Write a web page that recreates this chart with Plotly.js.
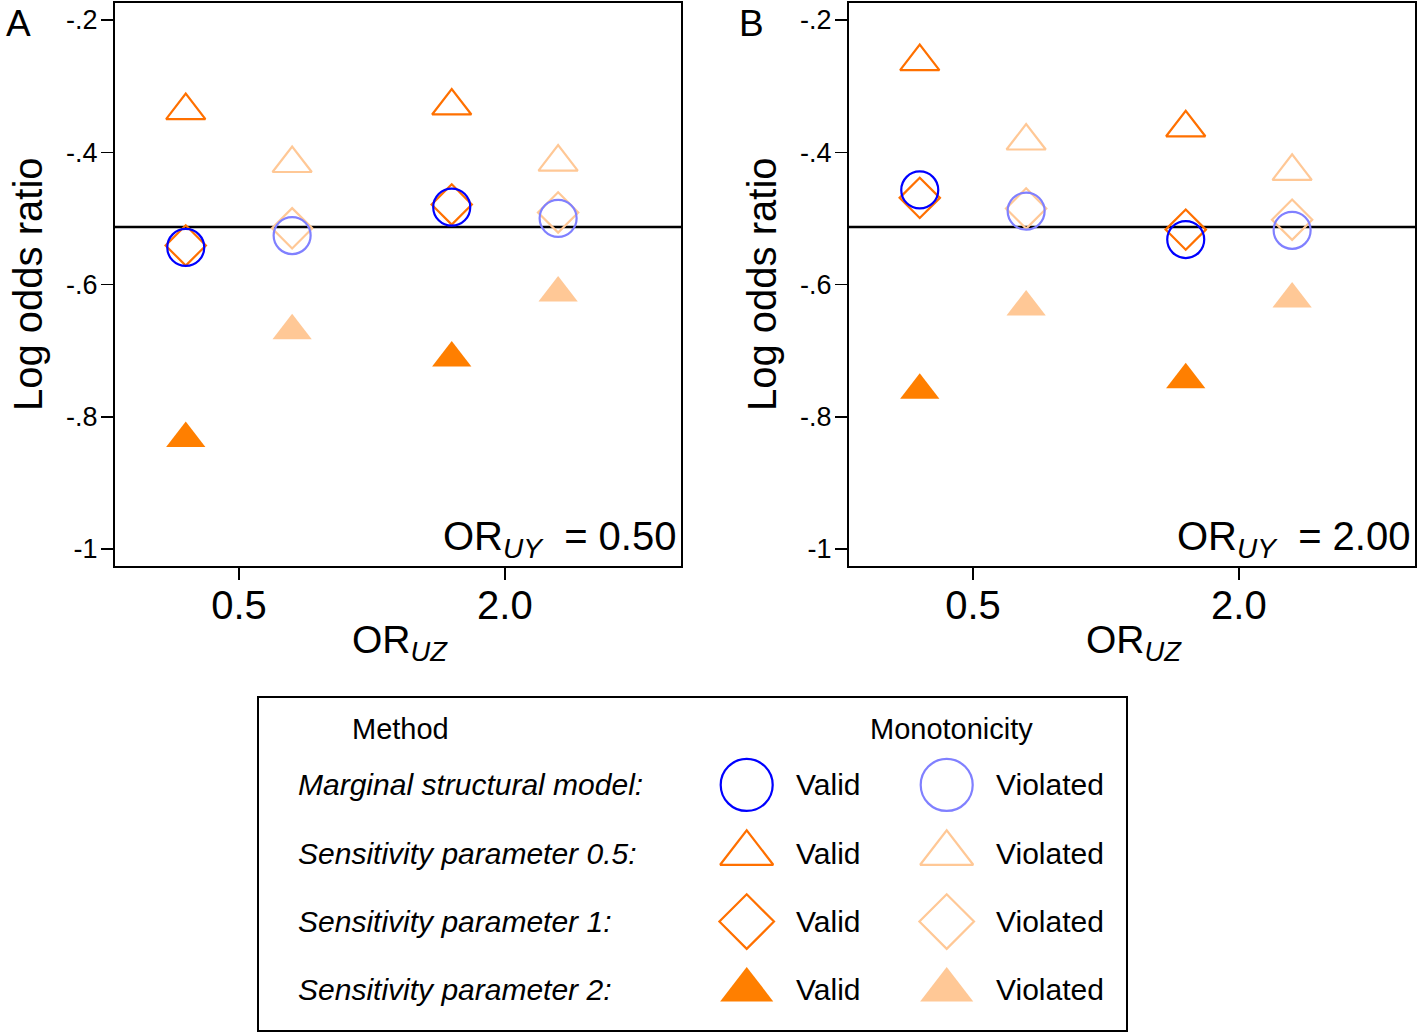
<!DOCTYPE html>
<html><head><meta charset="utf-8">
<script src="https://cdn.plot.ly/plotly-3.0.1.min.js"></script>
<style>html,body{margin:0;padding:0;background:#fff}#chart{width:1418px;height:1035px}</style>
</head><body><div id="chart"></div>
<script>
// ---------------- data ----------------
const orUZ = ['0.5', '2.0'];                 // x categories (OR_UZ)
const monotonicity = ['Valid', 'Violated'];
const methods = ['Marginal structural model:', 'Sensitivity parameter 0.5:', 'Sensitivity parameter 1:', 'Sensitivity parameter 2:'];
const panelLetters = ['A', 'B'];
const orUY = ['0.50', '2.00'];
const yTickVals = [-1, -0.8, -0.6, -0.4, -0.2];
const yTickText = ['-1', '-.8', '-.6', '-.4', '-.2'];
const trueLogOR = -0.513;

// Panel A (OR_UY = 0.50); values at OR_UZ = 0.5, 2.0
const msmValidA  = [-0.544, -0.483];
const msmViolA   = [-0.526, -0.500];
const sp05ValidA = [-0.337, -0.330];
const sp05ViolA  = [-0.417, -0.415];
const sp1ValidA  = [-0.541, -0.479];
const sp1ViolA   = [-0.515, -0.491];
const sp2ValidA  = [-0.833, -0.711];
const sp2ViolA   = [-0.670, -0.613];

// Panel B (OR_UY = 2.00)
const msmValidB  = [-0.457, -0.532];
const msmViolB   = [-0.489, -0.518];
const sp05ValidB = [-0.263, -0.363];
const sp05ViolB  = [-0.383, -0.429];
const sp1ValidB  = [-0.469, -0.517];
const sp1ViolB   = [-0.485, -0.502];
const sp2ValidB  = [-0.760, -0.744];
const sp2ViolB   = [-0.634, -0.622];

// ---------------- styles ----------------
const W = 1418, H = 1035;
const px = v => v / W, py = v => 1 - v / H;
const FONT = 'Liberation Sans, Arial, sans-serif';
const dodge = 0.2;
const methodStyle = [
  {symbol: 'circle-open',      size: 37, legendSize: 52, colors: ['#0000FF', '#8080FF']},
  {symbol: 'triangle-up-open', size: 34, legendSize: 46, colors: ['#FF7000', '#FFC896']},
  {symbol: 'diamond-open',     size: 31, legendSize: 42, colors: ['#FF7000', '#FFC896']},
  {symbol: 'triangle-up',      size: 34, legendSize: 46, colors: ['#FF7F00', '#FFC896']}
];
const drawOrder = [3, 1, 2, 0];

const panels = [
  {valid: [msmValidA, sp05ValidA, sp1ValidA, sp2ValidA], violated: [msmViolA, sp05ViolA, sp1ViolA, sp2ViolA], xa: 'x', ya: 'y'},
  {valid: [msmValidB, sp05ValidB, sp1ValidB, sp2ValidB], violated: [msmViolB, sp05ViolB, sp1ViolB, sp2ViolB], xa: 'x2', ya: 'y2'}
];

function markerFor(m, j, big) {
  const st = methodStyle[m];
  const c = st.colors[j];
  return {symbol: st.symbol, size: big ? st.legendSize : st.size, color: c,
          line: {color: c, width: st.symbol === 'triangle-up' ? 0 : 2.2}};
}

const traces = [];
panels.forEach((p, pi) => {
  drawOrder.forEach(m => {
    monotonicity.forEach((mono, j) => {
      const ys = j === 0 ? p.valid[m] : p.violated[m];
      traces.push({
        type: 'scatter', mode: 'markers', xaxis: p.xa, yaxis: p.ya,
        x: orUZ.map((_, i) => i + (j === 0 ? -dodge : dodge)),
        y: ys, name: methods[m] + ' ' + mono, showlegend: false,
        marker: markerFor(m, j, false), hoverinfo: 'y', cliponaxis: false
      });
    });
  });
});

// legend markers (hidden subplot)
methods.forEach((name, m) => {
  monotonicity.forEach((mono, j) => {
    traces.push({
      type: 'scatter', mode: 'markers', xaxis: 'x3', yaxis: 'y3',
      x: [j], y: [m], showlegend: false, hoverinfo: 'skip', cliponaxis: false,
      marker: markerFor(m, j, true)
    });
  });
});

const axisCommon = {
  showline: true, mirror: true, linecolor: '#000', linewidth: 2,
  ticks: 'outside', ticklen: 12, tickwidth: 1.5, tickcolor: '#000',
  showgrid: false, zeroline: false, fixedrange: true
};
function xAxis(domain, anchor) {
  return Object.assign({}, axisCommon, {domain: domain, anchor: anchor, range: [-0.466, 1.662],
    tickvals: orUZ.map((_, i) => i), ticktext: orUZ, tickfont: {size: 40, color: '#000'}, ticklabelstandoff: -9});
}
function yAxis(anchor) {
  return Object.assign({}, axisCommon, {domain: [py(566), py(3)], anchor: anchor, range: [-1.0257, -0.1743],
    tickvals: yTickVals, ticktext: yTickText, tickfont: {size: 27, color: '#000'}, ticklabelstandoff: -2});
}

const annotations = [];
const panelX = [[115, 681], [849, 1415]];
panelLetters.forEach((L, i) => {
  const off = i * 734;
  annotations.push({text: L, xref: 'paper', yref: 'paper', x: px(18 + off), y: py(23), showarrow: false,
    xanchor: 'center', yanchor: 'middle', font: {size: 37, color: '#000'}});
  annotations.push({text: 'Log odds ratio', xref: 'paper', yref: 'paper', x: px(28 + off), y: py(284), textangle: -90,
    showarrow: false, xanchor: 'center', yanchor: 'middle', font: {size: 40, color: '#000'}});
  annotations.push({text: 'OR<sub><i>UZ</i></sub>', xref: 'paper', yref: 'paper', x: px((panelX[i][0] + panelX[i][1]) / 2 + 2), y: py(642),
    showarrow: false, xanchor: 'center', yanchor: 'middle', font: {size: 39, color: '#000'}});
  annotations.push({text: 'OR<sub><i>UY</i></sub>\u00a0\u00a0=\u00a0' + orUY[i], xref: 'paper', yref: 'paper',
    x: px(panelX[i][1] - 3), y: py(539), showarrow: false, xanchor: 'right', yanchor: 'middle',
    font: {size: 40, color: '#000'}});
});
// legend texts
annotations.push({text: 'Method', xref: 'paper', yref: 'paper', x: px(400), y: py(729), showarrow: false,
  xanchor: 'center', yanchor: 'middle', font: {size: 29, color: '#000'}});
annotations.push({text: 'Monotonicity', xref: 'paper', yref: 'paper', x: px(952), y: py(729), showarrow: false,
  xanchor: 'center', yanchor: 'middle', font: {size: 29, color: '#000'}});
methods.forEach((name, m) => {
  annotations.push({text: name, xref: 'paper', yref: 'y3', x: px(296), y: m, showarrow: false,
    xanchor: 'left', yanchor: 'middle', font: {size: 30, color: '#000', style: 'italic'}});
  monotonicity.forEach((mono, j) => {
    annotations.push({text: mono, xref: 'x3', yref: 'y3', x: j, xshift: 47, y: m, showarrow: false,
      xanchor: 'left', yanchor: 'middle', font: {size: 30, color: '#000'}});
  });
});

const shapes = [
  {type: 'line', xref: 'x domain', yref: 'y', x0: 0, x1: 1, y0: trueLogOR, y1: trueLogOR, line: {color: '#000', width: 2.5}, layer: 'below'},
  {type: 'line', xref: 'x2 domain', yref: 'y2', x0: 0, x1: 1, y0: trueLogOR, y1: trueLogOR, line: {color: '#000', width: 2.5}, layer: 'below'},
  {type: 'rect', xref: 'paper', yref: 'paper', x0: px(258), x1: px(1127), y0: py(1031), y1: py(697), line: {color: '#000', width: 2}}
];

const layout = {
  width: W, height: H, margin: {l: 0, r: 0, t: 0, b: 0},
  paper_bgcolor: '#fff', plot_bgcolor: '#fff',
  font: {family: FONT, color: '#000'},
  showlegend: false,
  xaxis: xAxis([px(115), px(681)], 'y'),
  yaxis: yAxis('x'),
  xaxis2: xAxis([px(849), px(1415)], 'y2'),
  yaxis2: yAxis('x2'),
  xaxis3: {domain: [px(258), px(1127)], anchor: 'y3', range: [-2.4435, 1.9015], visible: false, fixedrange: true},
  yaxis3: {domain: [py(1031), py(697)], anchor: 'x3', range: [3.602, -1.288], visible: false, fixedrange: true},
  annotations: annotations, shapes: shapes
};

Plotly.newPlot('chart', traces, layout, {displayModeBar: false, staticPlot: true});
</script></body></html>
